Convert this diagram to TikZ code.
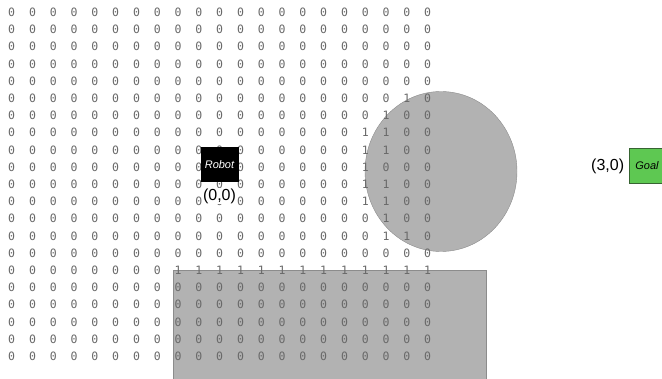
\documentclass[tikz,border=0pt]{standalone}
\usepackage{fontspec}
\setmainfont{Liberation Sans}
\setmonofont{DejaVu Sans Mono}
\usetikzlibrary{positioning}
\definecolor{cellgray}{RGB}{105,105,105}
\definecolor{obstfill}{RGB}{178,178,178}
\definecolor{obstedge}{RGB}{140,140,140}
\definecolor{goalgreen}{RGB}{94,200,82}
\definecolor{goaledge}{RGB}{55,100,50}

\tikzset{
  cell/.style={font=\ttfamily\fontsize{11.5}{11.5}\selectfont, text=cellgray, inner sep=0pt},
  agent/.style={minimum width=38pt, minimum height=35pt, inner sep=0pt,
                font=\itshape\fontsize{11}{11}\selectfont},
  coordlabel/.style={font=\fontsize{16}{16}\selectfont, inner sep=0.5pt}
}

\begin{document}
\begin{tikzpicture}[x=1pt,y=-1pt]
  \useasboundingbox (0,0) rectangle (662,379);
  % obstacles
  \draw[obstedge, fill=obstfill] (441,171.5) ellipse [x radius=76, y radius=80];
  \draw[obstedge, fill=obstfill] (173.5,270) rectangle (486,392);
  % occupancy grid, one list per row
  \foreach \rowvals [count=\j from 0] in {
    {0,0,0,0,0,0,0,0,0,0,0,0,0,0,0,0,0,0,0,0,0},
    {0,0,0,0,0,0,0,0,0,0,0,0,0,0,0,0,0,0,0,0,0},
    {0,0,0,0,0,0,0,0,0,0,0,0,0,0,0,0,0,0,0,0,0},
    {0,0,0,0,0,0,0,0,0,0,0,0,0,0,0,0,0,0,0,0,0},
    {0,0,0,0,0,0,0,0,0,0,0,0,0,0,0,0,0,0,0,0,0},
    {0,0,0,0,0,0,0,0,0,0,0,0,0,0,0,0,0,0,0,1,0},
    {0,0,0,0,0,0,0,0,0,0,0,0,0,0,0,0,0,0,1,0,0},
    {0,0,0,0,0,0,0,0,0,0,0,0,0,0,0,0,0,1,1,0,0},
    {0,0,0,0,0,0,0,0,0,0,0,0,0,0,0,0,0,1,1,0,0},
    {0,0,0,0,0,0,0,0,0,0,0,0,0,0,0,0,0,1,0,0,0},
    {0,0,0,0,0,0,0,0,0,0,0,0,0,0,0,0,0,1,1,0,0},
    {0,0,0,0,0,0,0,0,0,0,0,0,0,0,0,0,0,1,1,0,0},
    {0,0,0,0,0,0,0,0,0,0,0,0,0,0,0,0,0,0,1,0,0},
    {0,0,0,0,0,0,0,0,0,0,0,0,0,0,0,0,0,0,1,1,0},
    {0,0,0,0,0,0,0,0,0,0,0,0,0,0,0,0,0,0,0,0,0},
    {0,0,0,0,0,0,0,0,1,1,1,1,1,1,1,1,1,1,1,1,1},
    {0,0,0,0,0,0,0,0,0,0,0,0,0,0,0,0,0,0,0,0,0},
    {0,0,0,0,0,0,0,0,0,0,0,0,0,0,0,0,0,0,0,0,0},
    {0,0,0,0,0,0,0,0,0,0,0,0,0,0,0,0,0,0,0,0,0},
    {0,0,0,0,0,0,0,0,0,0,0,0,0,0,0,0,0,0,0,0,0},
    {0,0,0,0,0,0,0,0,0,0,0,0,0,0,0,0,0,0,0,0,0}} {
    \foreach \v [count=\i from 0] in \rowvals
      \node[cell] (c-\i-\j) at ({11.7+20.8*\i},{12.3+17.2*\j}) {\v};
  }
  % robot and goal
  \node[agent, fill=black, text=white] (robot) at (219.5,164.5) {Robot};
  \node[coordlabel, fill=white, below=6pt of robot] (robotpos) {(0,0)};
  \node[agent, minimum width=36pt, fill=goalgreen, draw=goaledge] (goal) at (647,166) {Goal};
  \node[coordlabel, left=4pt of goal] (goalpos) {(3,0)};
\end{tikzpicture}
\end{document}
